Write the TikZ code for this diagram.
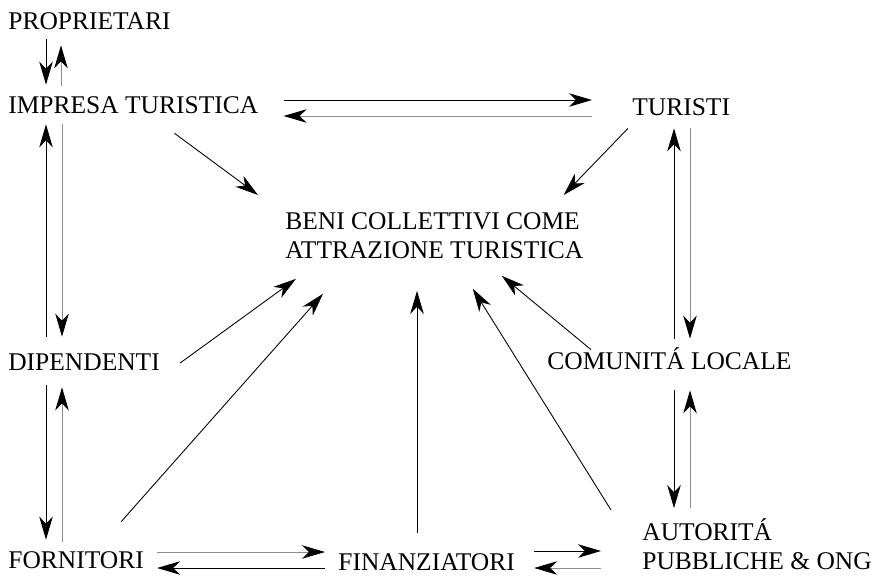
\documentclass[tikz,border=0pt]{standalone}
\usepackage{fontspec}
\setmainfont{Liberation Serif}
\usetikzlibrary{arrows.meta}

\begin{document}
\begin{tikzpicture}[x=0.2mm,y=-0.2mm]
\useasboundingbox (0,0) rectangle (879,575);
\begin{scope}[every node/.style={inner sep=0pt,font=\fontsize{14.5}{16.5}\selectfont},
              voce/.style={anchor=base west,text height=3.4mm,text depth=0pt}]
    \node[voce] (prop) at (8,29) {PROPRIETARI};
    \node[voce] (imp) at (8,113) {IMPRESA TURISTICA};
    \node[voce] (tur) at (632,115) {TURISTI};
    \node[voce] (dip) at (8,370) {DIPENDENTI};
    \node[voce] (com) at (547,369) {COMUNITÁ LOCALE};
    \node[voce] (forn) at (8,568) {FORNITORI};
    \node[voce] (fin) at (338,570) {FINANZIATORI};
    \node[anchor=north west,align=left] (beni) at (285,212) {BENI COLLETTIVI COME\\ATTRAZIONE TURISTICA};
    \node[anchor=south west,align=left] (aut) at (642,570) {AUTORITÁ\\PUBBLICHE \& ONG};
\end{scope}
\begin{scope}[>={Stealth[length=4.6mm,width=2.7mm,inset=1.4mm]},
              freccia/.style={draw,line width=0.5pt,->},
              ritorno/.style={freccia,draw=black!45,>={Stealth[length=4.6mm,width=2.7mm,inset=1.4mm,black]}}]
    \draw[freccia,shorten <=2mm,shorten >=2.2mm] (prop.south -| 46,0) -- (imp.north -| 46,0);
    \draw[ritorno,shorten <=2mm,shorten >=3.2mm] (imp.north -| 61,0) -- (prop.south -| 61,0);
    \draw[freccia,shorten <=3.2mm,shorten >=2.2mm] (dip.north -| 46,0) -- (imp.south -| 46,0);
    \draw[ritorno,shorten <=2.2mm,shorten >=3.2mm] (imp.south -| 62,0) -- (dip.north -| 62,0);
    \draw[freccia,shorten <=3mm,shorten >=2.2mm] (dip.south -| 46,0) -- (forn.north -| 46,0);
    \draw[ritorno,shorten <=1.8mm,shorten >=3.4mm] (forn.north -| 62,0) -- (dip.south -| 62,0);

    \draw[freccia,shorten <=5mm,shorten >=8mm] (imp.east |- 0,100) -- (tur.west |- 0,100);
    \draw[ritorno,shorten <=8mm,shorten >=5mm] (tur.west |- 0,116) -- (imp.east |- 0,116);

    \draw[freccia,shorten <=2.6mm,shorten >=2.6mm] (com.north -| 674,0) -- (tur.south -| 674,0);
    \draw[ritorno,shorten <=2.6mm,shorten >=2.6mm] (tur.south -| 690,0) -- (com.north -| 690,0);
    \draw[freccia,shorten <=4.2mm,shorten >=2mm] (com.south -| 674,0) -- (aut.north -| 674,0);
    \draw[ritorno,shorten <=2mm,shorten >=4.2mm] (aut.north -| 690,0) -- (com.south -| 690,0);

    \draw[ritorno,shorten <=2.6mm,shorten >=2.6mm] (forn.east |- 0,552) -- (fin.west |- 0,552);
    \draw[freccia,shorten <=2.6mm,shorten >=2.6mm] (fin.west |- 0,568) -- (forn.east |- 0,568);
    \draw[freccia,shorten <=3.8mm,shorten >=8.2mm] (fin.east |- 0,551) -- (aut.west |- 0,551);
    \draw[ritorno,shorten <=8.2mm,shorten >=3.8mm] (aut.west |- 0,568) -- (fin.east |- 0,568);

    \draw[freccia] ([shift={(-84,20)}]imp.south east) -- ([shift={(-27,-17)}]beni.north west);
    \draw[freccia] ([shift={(-4,13)}]tur.south west) -- ([shift={(-20,-17)}]beni.north east);
    \draw[freccia] ([shift={(20,1.5)}]dip.east) -- ([shift={(11,20)}]beni.south west);
    \draw[freccia] ([shift={(-23,-29)}]forn.north east) -- ([shift={(38,35)}]beni.south west);
    \draw[freccia,shorten <=4mm,shorten >=6.4mm] (fin.north -| 417,0) -- (beni.south -| 417,0);
    \draw[freccia] ([shift={(-31,-60)}]aut.south west) -- ([shift={(38.5,30)}]beni.south);
    \draw[freccia] ([shift={(44,-2)}]com.north west) -- ([shift={(67.5,17)}]beni.south);
\end{scope}
\end{tikzpicture}
\end{document}
